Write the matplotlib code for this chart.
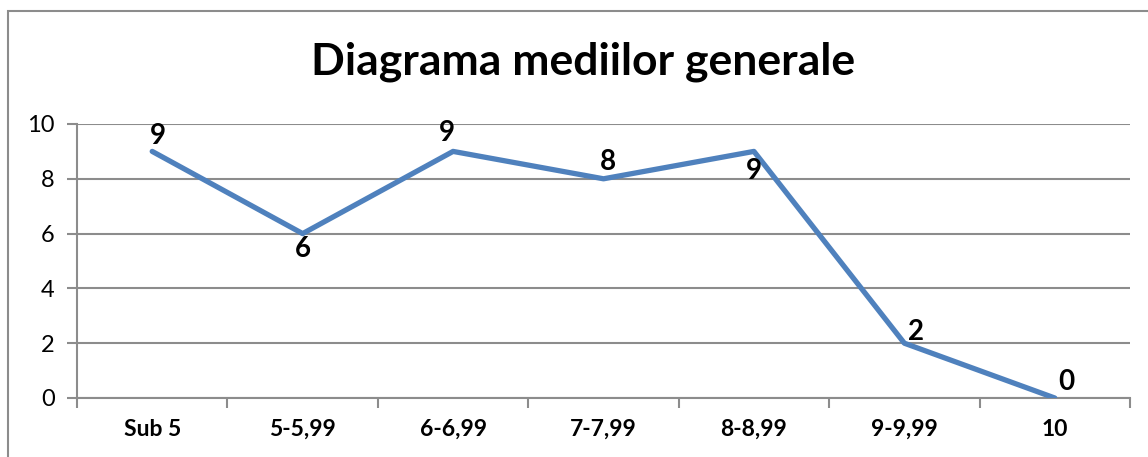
import matplotlib.pyplot as plt
from matplotlib.patches import Rectangle

categories = ["Sub 5", "5-5,99", "6-6,99", "7-7,99", "8-8,99", "9-9,99", "10"]
counts = [9, 6, 9, 8, 9, 2, 0]
title = "Diagrama mediilor generale"

# label offsets in pixels (dx, dy) relative to each point
label_offsets = [(6, 15), (0, -15), (-6, 18), (4, 17), (0, -20), (12, 11), (12, 16)]

plt.rcParams["font.family"] = ["Lato", "DejaVu Sans"]

fig = plt.figure(figsize=(11.48, 4.57), dpi=100)
W, H = 1148, 457

# outer chart border (runs off right and bottom edge)
fig.patches.append(Rectangle((8 / W, -0.1), 1.2, 1 - 11 / H + 0.1,
                             transform=fig.transFigure, fill=False,
                             edgecolor="#8c8c8c", linewidth=1.5))

ax = fig.add_axes([77 / W, 1 - 398 / H, (1130 - 77) / W, (398 - 124) / H])

x = [i + 0.5 for i in range(len(categories))]
ax.plot(x, counts, color="#4F81BD", linewidth=3.8, solid_capstyle="round",
        solid_joinstyle="round", zorder=3)

for xi, yi, (dx, dy) in zip(x, counts, label_offsets):
    ax.annotate(str(yi), (xi, yi), xytext=(dx, dy), textcoords="offset pixels",
                ha="center", va="center", fontsize=20, fontweight="bold",
                color="black", zorder=4)

ax.set_xlim(0, len(categories))
ax.set_ylim(0, 10)
ax.set_yticks(range(0, 11, 2))
ax.set_xticks(range(len(categories) + 1))
ax.set_xticklabels([])
ax.set_xticks(x, minor=True)
ax.set_xticklabels(categories, minor=True, fontsize=16.5, fontweight="bold")
ax.tick_params(axis="x", which="minor", length=0, pad=15)
ax.tick_params(axis="x", which="major", length=7, width=1.5, color="#8c8c8c", direction="out")
ax.tick_params(axis="y", length=7, width=1.5, color="#8c8c8c", labelsize=17, pad=9)

ax.grid(axis="y", color="#8c8c8c", linewidth=1.5)
ax.set_axisbelow(True)
for side in ["top", "right"]:
    ax.spines[side].set_visible(False)
for side in ["left", "bottom"]:
    ax.spines[side].set_color("#8c8c8c")
    ax.spines[side].set_linewidth(1.5)

fig.text(583 / W, 1 - 62 / H, title, ha="center", va="center",
         fontsize=32, fontweight="bold")

fig.savefig("out.png", dpi=100)
